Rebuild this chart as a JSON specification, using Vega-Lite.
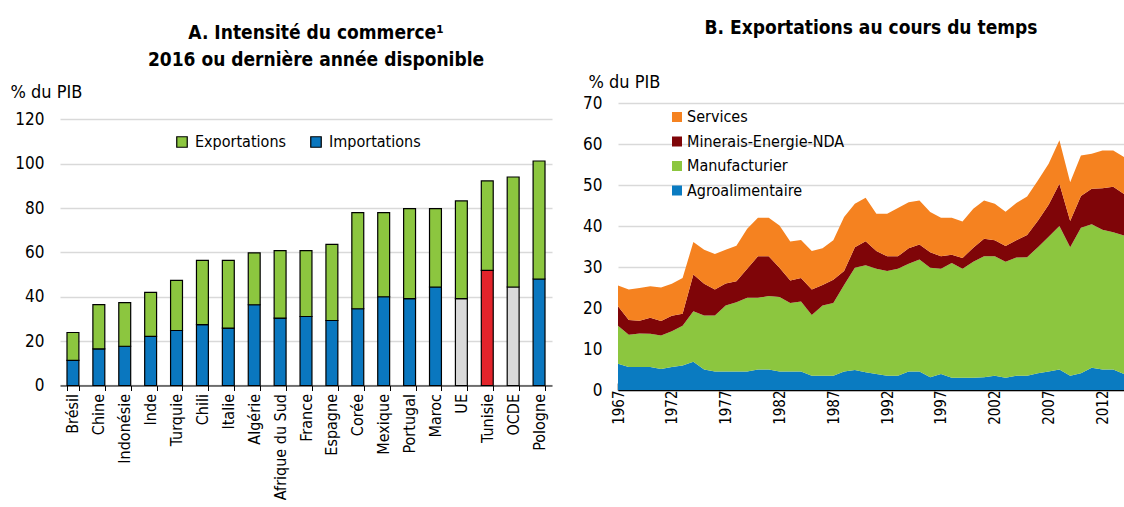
{
  "$schema": "https://vega.github.io/schema/vega-lite/v6.json",
  "background": "white",
  "padding": {"left": 10, "top": 19, "right": 0, "bottom": 0},
  "spacing": 30,
  "resolve": {"scale": {"color": "independent"}, "legend": {"color": "independent"}},
  "config": {
    "font": "Liberation Sans Narrow, Arial Narrow, DejaVu Sans Condensed, sans-serif",
    "view": {"stroke": null},
    "title": {"fontSize": 19, "fontWeight": "bold", "color": "#000000", "font": "Liberation Sans Narrow, Arial Narrow, DejaVu Sans Condensed, sans-serif"},
    "axis": {"labelFontSize": 17, "labelColor": "#000000", "titleFontSize": 18, "titleFontWeight": "normal", "titleColor": "#000000", "domainColor": "#000000", "tickColor": "#000000", "gridColor": "#d9d9d9", "gridWidth": 1.5},
    "legend": {"labelFontSize": 16, "labelColor": "#000000"}
  },
  "datasets": {
    "commerce": [
      {"pays": "Brésil", "serie": "Importations", "valeur": 11.3}, {"pays": "Brésil", "serie": "Exportations", "valeur": 12.6},
      {"pays": "Chine", "serie": "Importations", "valeur": 16.5}, {"pays": "Chine", "serie": "Exportations", "valeur": 20.0},
      {"pays": "Indonésie", "serie": "Importations", "valeur": 17.7}, {"pays": "Indonésie", "serie": "Exportations", "valeur": 19.7},
      {"pays": "Inde", "serie": "Importations", "valeur": 22.1}, {"pays": "Inde", "serie": "Exportations", "valeur": 19.9},
      {"pays": "Turquie", "serie": "Importations", "valeur": 24.8}, {"pays": "Turquie", "serie": "Exportations", "valeur": 22.6},
      {"pays": "Chili", "serie": "Importations", "valeur": 27.4}, {"pays": "Chili", "serie": "Exportations", "valeur": 29.0},
      {"pays": "Italie", "serie": "Importations", "valeur": 25.9}, {"pays": "Italie", "serie": "Exportations", "valeur": 30.5},
      {"pays": "Algérie", "serie": "Importations", "valeur": 36.4}, {"pays": "Algérie", "serie": "Exportations", "valeur": 23.4},
      {"pays": "Afrique du Sud", "serie": "Importations", "valeur": 30.4}, {"pays": "Afrique du Sud", "serie": "Exportations", "valeur": 30.4},
      {"pays": "France", "serie": "Importations", "valeur": 31.1}, {"pays": "France", "serie": "Exportations", "valeur": 29.7},
      {"pays": "Espagne", "serie": "Importations", "valeur": 29.3}, {"pays": "Espagne", "serie": "Exportations", "valeur": 34.3},
      {"pays": "Corée", "serie": "Importations", "valeur": 34.6}, {"pays": "Corée", "serie": "Exportations", "valeur": 43.3},
      {"pays": "Mexique", "serie": "Importations", "valeur": 40.0}, {"pays": "Mexique", "serie": "Exportations", "valeur": 37.9},
      {"pays": "Portugal", "serie": "Importations", "valeur": 39.2}, {"pays": "Portugal", "serie": "Exportations", "valeur": 40.5},
      {"pays": "Maroc", "serie": "Importations", "valeur": 44.4}, {"pays": "Maroc", "serie": "Exportations", "valeur": 35.3},
      {"pays": "UE", "serie": "Importations", "valeur": 39.2}, {"pays": "UE", "serie": "Exportations", "valeur": 44.0},
      {"pays": "Tunisie", "serie": "Importations", "valeur": 51.9}, {"pays": "Tunisie", "serie": "Exportations", "valeur": 40.3},
      {"pays": "OCDE", "serie": "Importations", "valeur": 44.4}, {"pays": "OCDE", "serie": "Exportations", "valeur": 49.6},
      {"pays": "Pologne", "serie": "Importations", "valeur": 48.0}, {"pays": "Pologne", "serie": "Exportations", "valeur": 53.2}
    ],
    "exportations": [
      {"annee": 1967, "serie": "Agroalimentaire", "valeur": 6.4}, {"annee": 1967, "serie": "Manufacturier", "valeur": 9.3}, {"annee": 1967, "serie": "Minerais-Energie-NDA", "valeur": 4.7}, {"annee": 1967, "serie": "Services", "valeur": 5.1},
      {"annee": 1968, "serie": "Agroalimentaire", "valeur": 5.6}, {"annee": 1968, "serie": "Manufacturier", "valeur": 7.9}, {"annee": 1968, "serie": "Minerais-Energie-NDA", "valeur": 3.6}, {"annee": 1968, "serie": "Services", "valeur": 7.4},
      {"annee": 1969, "serie": "Agroalimentaire", "valeur": 5.6}, {"annee": 1969, "serie": "Manufacturier", "valeur": 8.2}, {"annee": 1969, "serie": "Minerais-Energie-NDA", "valeur": 3.1}, {"annee": 1969, "serie": "Services", "valeur": 8.0},
      {"annee": 1970, "serie": "Agroalimentaire", "valeur": 5.6}, {"annee": 1970, "serie": "Manufacturier", "valeur": 8.1}, {"annee": 1970, "serie": "Minerais-Energie-NDA", "valeur": 3.9}, {"annee": 1970, "serie": "Services", "valeur": 7.7},
      {"annee": 1971, "serie": "Agroalimentaire", "valeur": 5.1}, {"annee": 1971, "serie": "Manufacturier", "valeur": 8.2}, {"annee": 1971, "serie": "Minerais-Energie-NDA", "valeur": 3.5}, {"annee": 1971, "serie": "Services", "valeur": 8.2},
      {"annee": 1972, "serie": "Agroalimentaire", "valeur": 5.6}, {"annee": 1972, "serie": "Manufacturier", "valeur": 8.7}, {"annee": 1972, "serie": "Minerais-Energie-NDA", "valeur": 3.8}, {"annee": 1972, "serie": "Services", "valeur": 7.8},
      {"annee": 1973, "serie": "Agroalimentaire", "valeur": 6.0}, {"annee": 1973, "serie": "Manufacturier", "valeur": 9.7}, {"annee": 1973, "serie": "Minerais-Energie-NDA", "valeur": 2.9}, {"annee": 1973, "serie": "Services", "valeur": 8.7},
      {"annee": 1974, "serie": "Agroalimentaire", "valeur": 6.9}, {"annee": 1974, "serie": "Manufacturier", "valeur": 12.3}, {"annee": 1974, "serie": "Minerais-Energie-NDA", "valeur": 9.0}, {"annee": 1974, "serie": "Services", "valeur": 7.9},
      {"annee": 1975, "serie": "Agroalimentaire", "valeur": 5.0}, {"annee": 1975, "serie": "Manufacturier", "valeur": 13.2}, {"annee": 1975, "serie": "Minerais-Energie-NDA", "valeur": 7.7}, {"annee": 1975, "serie": "Services", "valeur": 8.3},
      {"annee": 1976, "serie": "Agroalimentaire", "valeur": 4.5}, {"annee": 1976, "serie": "Manufacturier", "valeur": 13.7}, {"annee": 1976, "serie": "Minerais-Energie-NDA", "valeur": 6.3}, {"annee": 1976, "serie": "Services", "valeur": 8.7},
      {"annee": 1977, "serie": "Agroalimentaire", "valeur": 4.5}, {"annee": 1977, "serie": "Manufacturier", "valeur": 16.1}, {"annee": 1977, "serie": "Minerais-Energie-NDA", "valeur": 5.4}, {"annee": 1977, "serie": "Services", "valeur": 8.2},
      {"annee": 1978, "serie": "Agroalimentaire", "valeur": 4.5}, {"annee": 1978, "serie": "Manufacturier", "valeur": 16.9}, {"annee": 1978, "serie": "Minerais-Energie-NDA", "valeur": 5.1}, {"annee": 1978, "serie": "Services", "valeur": 8.7},
      {"annee": 1979, "serie": "Agroalimentaire", "valeur": 4.5}, {"annee": 1979, "serie": "Manufacturier", "valeur": 18.0}, {"annee": 1979, "serie": "Minerais-Energie-NDA", "valeur": 7.1}, {"annee": 1979, "serie": "Services", "valeur": 9.7},
      {"annee": 1980, "serie": "Agroalimentaire", "valeur": 5.0}, {"annee": 1980, "serie": "Manufacturier", "valeur": 17.5}, {"annee": 1980, "serie": "Minerais-Energie-NDA", "valeur": 10.1}, {"annee": 1980, "serie": "Services", "valeur": 9.4},
      {"annee": 1981, "serie": "Agroalimentaire", "valeur": 5.0}, {"annee": 1981, "serie": "Manufacturier", "valeur": 17.9}, {"annee": 1981, "serie": "Minerais-Energie-NDA", "valeur": 9.7}, {"annee": 1981, "serie": "Services", "valeur": 9.4},
      {"annee": 1982, "serie": "Agroalimentaire", "valeur": 4.5}, {"annee": 1982, "serie": "Manufacturier", "valeur": 18.2}, {"annee": 1982, "serie": "Minerais-Energie-NDA", "valeur": 7.1}, {"annee": 1982, "serie": "Services", "valeur": 10.3},
      {"annee": 1983, "serie": "Agroalimentaire", "valeur": 4.5}, {"annee": 1983, "serie": "Manufacturier", "valeur": 16.7}, {"annee": 1983, "serie": "Minerais-Energie-NDA", "valeur": 5.5}, {"annee": 1983, "serie": "Services", "valeur": 9.5},
      {"annee": 1984, "serie": "Agroalimentaire", "valeur": 4.5}, {"annee": 1984, "serie": "Manufacturier", "valeur": 17.1}, {"annee": 1984, "serie": "Minerais-Energie-NDA", "valeur": 5.7}, {"annee": 1984, "serie": "Services", "valeur": 9.3},
      {"annee": 1985, "serie": "Agroalimentaire", "valeur": 3.5}, {"annee": 1985, "serie": "Manufacturier", "valeur": 14.8}, {"annee": 1985, "serie": "Minerais-Energie-NDA", "valeur": 6.2}, {"annee": 1985, "serie": "Services", "valeur": 9.4},
      {"annee": 1986, "serie": "Agroalimentaire", "valeur": 3.5}, {"annee": 1986, "serie": "Manufacturier", "valeur": 17.1}, {"annee": 1986, "serie": "Minerais-Energie-NDA", "valeur": 5.0}, {"annee": 1986, "serie": "Services", "valeur": 9.0},
      {"annee": 1987, "serie": "Agroalimentaire", "valeur": 3.5}, {"annee": 1987, "serie": "Manufacturier", "valeur": 17.7}, {"annee": 1987, "serie": "Minerais-Energie-NDA", "valeur": 5.7}, {"annee": 1987, "serie": "Services", "valeur": 9.6},
      {"annee": 1988, "serie": "Agroalimentaire", "valeur": 4.5}, {"annee": 1988, "serie": "Manufacturier", "valeur": 21.1}, {"annee": 1988, "serie": "Minerais-Energie-NDA", "valeur": 3.4}, {"annee": 1988, "serie": "Services", "valeur": 13.2},
      {"annee": 1989, "serie": "Agroalimentaire", "valeur": 4.9}, {"annee": 1989, "serie": "Manufacturier", "valeur": 24.9}, {"annee": 1989, "serie": "Minerais-Energie-NDA", "valeur": 5.0}, {"annee": 1989, "serie": "Services", "valeur": 10.6},
      {"annee": 1990, "serie": "Agroalimentaire", "valeur": 4.3}, {"annee": 1990, "serie": "Manufacturier", "valeur": 26.1}, {"annee": 1990, "serie": "Minerais-Energie-NDA", "valeur": 5.9}, {"annee": 1990, "serie": "Services", "valeur": 10.6},
      {"annee": 1991, "serie": "Agroalimentaire", "valeur": 3.9}, {"annee": 1991, "serie": "Manufacturier", "valeur": 25.7}, {"annee": 1991, "serie": "Minerais-Energie-NDA", "valeur": 4.3}, {"annee": 1991, "serie": "Services", "valeur": 9.1},
      {"annee": 1992, "serie": "Agroalimentaire", "valeur": 3.5}, {"annee": 1992, "serie": "Manufacturier", "valeur": 25.5}, {"annee": 1992, "serie": "Minerais-Energie-NDA", "valeur": 3.6}, {"annee": 1992, "serie": "Services", "valeur": 10.4},
      {"annee": 1993, "serie": "Agroalimentaire", "valeur": 3.5}, {"annee": 1993, "serie": "Manufacturier", "valeur": 26.1}, {"annee": 1993, "serie": "Minerais-Energie-NDA", "valeur": 3.0}, {"annee": 1993, "serie": "Services", "valeur": 11.8},
      {"annee": 1994, "serie": "Agroalimentaire", "valeur": 4.5}, {"annee": 1994, "serie": "Manufacturier", "valeur": 26.3}, {"annee": 1994, "serie": "Minerais-Energie-NDA", "valeur": 3.8}, {"annee": 1994, "serie": "Services", "valeur": 11.2},
      {"annee": 1995, "serie": "Agroalimentaire", "valeur": 4.5}, {"annee": 1995, "serie": "Manufacturier", "valeur": 27.3}, {"annee": 1995, "serie": "Minerais-Energie-NDA", "valeur": 3.7}, {"annee": 1995, "serie": "Services", "valeur": 10.7},
      {"annee": 1996, "serie": "Agroalimentaire", "valeur": 3.1}, {"annee": 1996, "serie": "Manufacturier", "valeur": 26.7}, {"annee": 1996, "serie": "Minerais-Energie-NDA", "valeur": 3.8}, {"annee": 1996, "serie": "Services", "valeur": 9.8},
      {"annee": 1997, "serie": "Agroalimentaire", "valeur": 3.9}, {"annee": 1997, "serie": "Manufacturier", "valeur": 25.7}, {"annee": 1997, "serie": "Minerais-Energie-NDA", "valeur": 3.0}, {"annee": 1997, "serie": "Services", "valeur": 9.4},
      {"annee": 1998, "serie": "Agroalimentaire", "valeur": 3.0}, {"annee": 1998, "serie": "Manufacturier", "valeur": 28.0}, {"annee": 1998, "serie": "Minerais-Energie-NDA", "valeur": 2.0}, {"annee": 1998, "serie": "Services", "valeur": 9.0},
      {"annee": 1999, "serie": "Agroalimentaire", "valeur": 3.0}, {"annee": 1999, "serie": "Manufacturier", "valeur": 26.6}, {"annee": 1999, "serie": "Minerais-Energie-NDA", "valeur": 2.6}, {"annee": 1999, "serie": "Services", "valeur": 8.9},
      {"annee": 2000, "serie": "Agroalimentaire", "valeur": 3.0}, {"annee": 2000, "serie": "Manufacturier", "valeur": 28.3}, {"annee": 2000, "serie": "Minerais-Energie-NDA", "valeur": 3.4}, {"annee": 2000, "serie": "Services", "valeur": 9.5},
      {"annee": 2001, "serie": "Agroalimentaire", "valeur": 3.1}, {"annee": 2001, "serie": "Manufacturier", "valeur": 29.5}, {"annee": 2001, "serie": "Minerais-Energie-NDA", "valeur": 4.3}, {"annee": 2001, "serie": "Services", "valeur": 9.3},
      {"annee": 2002, "serie": "Agroalimentaire", "valeur": 3.5}, {"annee": 2002, "serie": "Manufacturier", "valeur": 29.1}, {"annee": 2002, "serie": "Minerais-Energie-NDA", "valeur": 3.9}, {"annee": 2002, "serie": "Services", "valeur": 8.9},
      {"annee": 2003, "serie": "Agroalimentaire", "valeur": 3.0}, {"annee": 2003, "serie": "Manufacturier", "valeur": 28.3}, {"annee": 2003, "serie": "Minerais-Energie-NDA", "valeur": 3.8}, {"annee": 2003, "serie": "Services", "valeur": 8.4},
      {"annee": 2004, "serie": "Agroalimentaire", "valeur": 3.5}, {"annee": 2004, "serie": "Manufacturier", "valeur": 28.8}, {"annee": 2004, "serie": "Minerais-Energie-NDA", "valeur": 4.2}, {"annee": 2004, "serie": "Services", "valeur": 9.1},
      {"annee": 2005, "serie": "Agroalimentaire", "valeur": 3.5}, {"annee": 2005, "serie": "Manufacturier", "valeur": 28.9}, {"annee": 2005, "serie": "Minerais-Energie-NDA", "valeur": 5.4}, {"annee": 2005, "serie": "Services", "valeur": 9.4},
      {"annee": 2006, "serie": "Agroalimentaire", "valeur": 4.1}, {"annee": 2006, "serie": "Manufacturier", "valeur": 30.7}, {"annee": 2006, "serie": "Minerais-Energie-NDA", "valeur": 6.5}, {"annee": 2006, "serie": "Services", "valeur": 9.8},
      {"annee": 2007, "serie": "Agroalimentaire", "valeur": 4.5}, {"annee": 2007, "serie": "Manufacturier", "valeur": 32.9}, {"annee": 2007, "serie": "Minerais-Energie-NDA", "valeur": 7.8}, {"annee": 2007, "serie": "Services", "valeur": 10.0},
      {"annee": 2008, "serie": "Agroalimentaire", "valeur": 5.0}, {"annee": 2008, "serie": "Manufacturier", "valeur": 35.0}, {"annee": 2008, "serie": "Minerais-Energie-NDA", "valeur": 10.3}, {"annee": 2008, "serie": "Services", "valeur": 10.6},
      {"annee": 2009, "serie": "Agroalimentaire", "valeur": 3.5}, {"annee": 2009, "serie": "Manufacturier", "valeur": 31.3}, {"annee": 2009, "serie": "Minerais-Energie-NDA", "valeur": 6.4}, {"annee": 2009, "serie": "Services", "valeur": 9.5},
      {"annee": 2010, "serie": "Agroalimentaire", "valeur": 4.1}, {"annee": 2010, "serie": "Manufacturier", "valeur": 35.5}, {"annee": 2010, "serie": "Minerais-Energie-NDA", "valeur": 7.7}, {"annee": 2010, "serie": "Services", "valeur": 9.9},
      {"annee": 2011, "serie": "Agroalimentaire", "valeur": 5.4}, {"annee": 2011, "serie": "Manufacturier", "valeur": 35.0}, {"annee": 2011, "serie": "Minerais-Energie-NDA", "valeur": 8.7}, {"annee": 2011, "serie": "Services", "valeur": 8.5},
      {"annee": 2012, "serie": "Agroalimentaire", "valeur": 5.0}, {"annee": 2012, "serie": "Manufacturier", "valeur": 34.1}, {"annee": 2012, "serie": "Minerais-Energie-NDA", "valeur": 10.1}, {"annee": 2012, "serie": "Services", "valeur": 9.2},
      {"annee": 2013, "serie": "Agroalimentaire", "valeur": 5.0}, {"annee": 2013, "serie": "Manufacturier", "valeur": 33.5}, {"annee": 2013, "serie": "Minerais-Energie-NDA", "valeur": 11.1}, {"annee": 2013, "serie": "Services", "valeur": 8.8},
      {"annee": 2014, "serie": "Agroalimentaire", "valeur": 3.9}, {"annee": 2014, "serie": "Manufacturier", "valeur": 33.8}, {"annee": 2014, "serie": "Minerais-Energie-NDA", "valeur": 10.1}, {"annee": 2014, "serie": "Services", "valeur": 9.0}
    ]
  },
  "hconcat": [
    {
      "width": 492,
      "height": 287,
      "title": {"text": ["A. Intensité du commerce¹", "2016  ou dernière année disponible"], "anchor": "middle", "dx": 10, "offset": 13, "lineHeight": 27},
      "data": {"name": "commerce"},
      "mark": {"type": "bar", "stroke": "#000000", "strokeWidth": 1.2},
      "encoding": {
        "x": {
          "field": "pays", "type": "nominal", "sort": null,
          "scale": {"paddingInner": 0.54, "paddingOuter": 0.27},
          "axis": {"title": null, "labelAngle": -90, "labelFontSize": 16, "tickBand": "extent", "tickSize": 5, "labelPadding": 3, "offset": -4.5, "domainWidth": 1.2, "ticks": true}
        },
        "y": {
          "field": "valeur", "type": "quantitative", "stack": "zero",
          "scale": {"domain": [-2.03, 127.35], "nice": false, "zero": false},
          "axis": {"title": "% du PIB", "titleAngle": 0, "titleAlign": "left", "titleBaseline": "alphabetic", "titleX": -50, "titleY": -6, "values": [0, 20, 40, 60, 80, 100, 120], "domain": false, "ticks": false, "labelPadding": 16, "grid": true}
        },
        "color": {
          "condition": [
            {"test": "datum.pays === 'Tunisie' && datum.serie === 'Importations'", "value": "#e3242b"},
            {"test": "(datum.pays === 'UE' || datum.pays === 'OCDE') && datum.serie === 'Importations'", "value": "#d9d9d9"}
          ],
          "field": "serie", "type": "nominal",
          "scale": {"domain": ["Exportations", "Importations"], "range": ["#8cc63f", "#0a77bf"]},
          "legend": {"title": null, "orient": "none", "legendX": 114, "legendY": 31, "direction": "horizontal", "columns": 2, "symbolType": "square", "symbolSize": 110, "symbolStrokeColor": "#000000", "symbolStrokeWidth": 1.2, "columnPadding": 22, "labelOffset": 5}
        },
        "order": {"field": "serie", "sort": "descending"}
      }
    },
    {
      "width": 506,
      "height": 287,
      "title": {"text": "B. Exportations au cours du temps", "anchor": "middle", "offset": 35},
      "data": {"name": "exportations"},
      "mark": {"type": "area", "interpolate": "linear"},
      "encoding": {
        "x": {
          "field": "annee", "type": "quantitative",
          "scale": {"domain": [1967, 2014], "nice": false, "zero": false},
          "axis": {"title": null, "values": [1967,1968,1969,1970,1971,1972,1973,1974,1975,1976,1977,1978,1979,1980,1981,1982,1983,1984,1985,1986,1987,1988,1989,1990,1991,1992,1993,1994,1995,1996,1997,1998,1999,2000,2001,2002,2003,2004,2005,2006,2007,2008,2009,2010,2011,2012,2013,2014], "format": "d", "labelExpr": "(datum.value - 1967) % 5 === 0 ? datum.label : ''", "labelAngle": -90, "tickSize": -7, "labelPadding": 7, "domainWidth": 1.5, "tickWidth": 1.5, "grid": false, "labelFontSize": 15, "labelOverlap": false}
        },
        "y": {
          "field": "valeur", "type": "quantitative", "stack": "zero",
          "scale": {"domain": [0, 70], "nice": false},
          "axis": {"title": "% du PIB", "titleAngle": 0, "titleAlign": "left", "titleBaseline": "alphabetic", "titleX": -30, "titleY": -16, "values": [0, 10, 20, 30, 40, 50, 60, 70], "domain": false, "ticks": false, "labelPadding": 16, "grid": true}
        },
        "color": {
          "field": "serie", "type": "nominal",
          "scale": {"domain": ["Services", "Minerais-Energie-NDA", "Manufacturier", "Agroalimentaire"], "range": ["#f58220", "#7f0508", "#8cc63f", "#0a7bc1"]},
          "legend": {"title": null, "orient": "none", "legendX": 51, "legendY": 6, "direction": "vertical", "symbolType": "square", "symbolSize": 100, "symbolStrokeWidth": 0, "rowPadding": 8.5, "labelOffset": 2}
        },
        "order": {"field": "serie", "sort": "ascending"}
      }
    }
  ]
}
